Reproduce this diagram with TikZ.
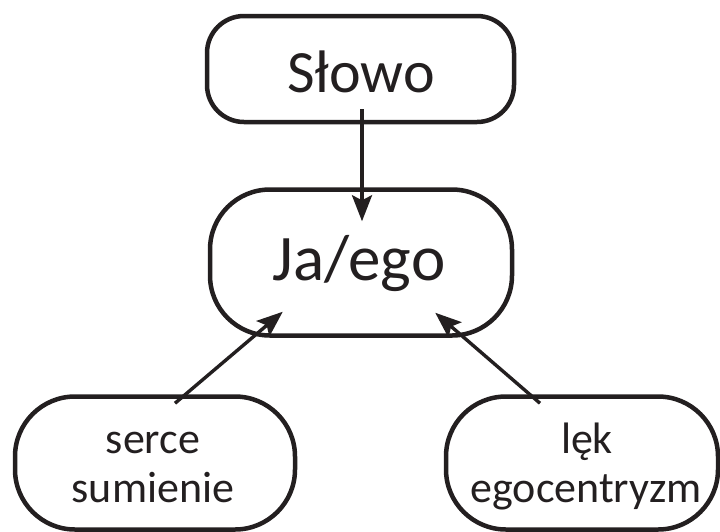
\documentclass[tikz,border=0pt]{standalone}
\usepackage{fontspec}
\setmainfont{Carlito}
\usetikzlibrary{arrows.meta}
\definecolor{ink}{RGB}{35,31,32}
\begin{document}
\begin{tikzpicture}[x=1pt,y=-1pt,
  box/.style={draw=ink, line width=4.5pt, rounded corners=#1, inner sep=0pt},
  box/.default=60pt,
  label/.style={text=ink, anchor=base, inner sep=0pt},
  big/.style={label, font=\fontsize{60pt}{60pt}\selectfont},
  huge/.style={label, font=\fontsize{65pt}{65pt}\selectfont},
  small/.style={label, font=\fontsize{44pt}{49pt}\selectfont},
  link/.style={draw=ink, line width=3.4pt,
    -{Stealth[length=26pt, width=20pt, inset=5pt]}}]
  \useasboundingbox (0,0) rectangle (720,531);

  % boxes
  \node[box=37pt, minimum width=307pt, minimum height=106pt] (slowo) at (360.5,69) {};
  \node[box, minimum width=302pt, minimum height=146pt] (ego) at (361,262.5) {};
  \node[box, minimum width=280pt, minimum height=133pt] (serce) at (155,463) {};
  \node[box, minimum width=272pt, minimum height=133pt] (lek) at (582,463) {};

  % texts
  \node[big] (tslowo) at (361,92) {Słowo};
  \node[huge] (tego) at (359,280) {Ja/ego};
  \node[small] (tserce) at (153,453) {serce};
  \node[small] (tsumienie) at (153,502) {sumienie};
  \node[small] (tlek) at (587,453) {lęk};
  \node[small] (tegoc) at (586,502) {egocentryzm};

  % arrows
  \draw[link] ([shift={(1.5pt,15pt)}]slowo.south) -- ([shift={(1pt,-34pt)}]ego.north);
  \draw[link] ([shift={(20pt,-9pt)}]serce.north) -- ([shift={(75pt,26pt)}]ego.south west);
  \draw[link] ([shift={(-42pt,-9pt)}]lek.north) -- ([shift={(-79pt,25pt)}]ego.south east);
\end{tikzpicture}
\end{document}
